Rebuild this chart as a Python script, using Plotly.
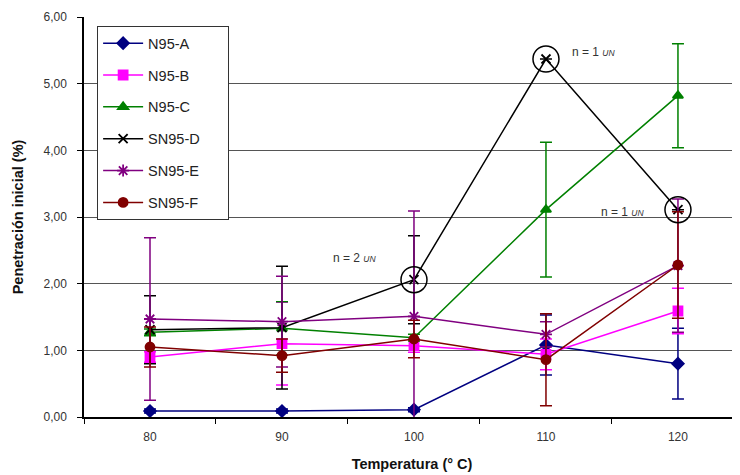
import plotly.graph_objects as go

temps = ["80", "90", "100", "110", "120"]

a_vals = [0.09, 0.09, 0.11, 1.08, 0.80]
a_err = [0.03, 0.03, 0.03, 0.45, 0.53]
b_vals = [0.90, 1.10, 1.07, 0.94, 1.59]
b_err = [0.08, 0.62, 0.10, 0.23, 0.34]
c_vals = [1.27, 1.33, 1.19, 3.11, 4.82]
c_err = [0.05, 0.40, 0.05, 1.01, 0.78]
d_vals = [1.31, 1.34, 2.06, 5.37, 3.11]
d_err = [0.51, 0.92, 0.66, 0.0, 0.0]
e_vals = [1.47, 1.43, 1.51, 1.24, 2.27]
e_err = [1.22, 0.68, 1.58, 0.19, 1.0]
f_vals = [1.05, 0.92, 1.17, 0.86, 2.28]
f_err = [0.30, 0.25, 0.28, 0.69, 0.80]

names = ["N95-A", "N95-B", "N95-C", "SN95-D", "SN95-E", "SN95-F"]
circled_idx = [2, 3, 4]

ytick_vals = [0, 1, 2, 3, 4, 5, 6]
ytick_text = ["0,00", "1,00", "2,00", "3,00", "4,00", "5,00", "6,00"]

series = [
    (names[0], a_vals, a_err, "#000080", "diamond", 9),
    (names[1], b_vals, b_err, "#FF00FF", "square", 9),
    (names[2], c_vals, c_err, "#008000", "triangle-up", 9),
    (names[3], d_vals, d_err, "#000000", "x-thin-open", 9),
    (names[4], e_vals, e_err, "#800080", "asterisk-open", 10),
    (names[5], f_vals, f_err, "#800000", "circle", 9),
]

pad = "<span style='color:rgba(0,0,0,0)'>xxx</span>"

fig = go.Figure()
for i, (nm, vals, err, col, sym, sz) in enumerate(series):
    fig.add_trace(go.Scatter(
        x=temps, y=vals, name=nm + pad, mode="lines+markers",
        legendgroup=nm,
        line=dict(color=col, width=1.5),
        marker=dict(symbol=sym, size=sz, color=col, line=dict(color=col, width=1.8)),
        error_y=dict(type="data", array=err, visible=True, color=col, thickness=1.5, width=6),
    ))

fig.add_trace(go.Scatter(
    x=[temps[i] for i in circled_idx], y=[d_vals[i] for i in circled_idx],
    mode="markers", showlegend=False, hoverinfo="skip",
    marker=dict(symbol="circle-open", size=26, color="black", line=dict(color="black", width=1.5)),
))

ann_font = dict(family="Liberation Sans, Arial", size=12, color="#333333")
un = "<i><span style='font-size:8.5px'>UN</span></i>"
fig.add_annotation(x=1.55, y=2.39, text="n = 2 " + un, showarrow=False, font=ann_font)
fig.add_annotation(x=3.36, y=5.47, text="n = 1 " + un, showarrow=False, font=ann_font)
fig.add_annotation(x=3.58, y=3.07, text="n = 1 " + un, showarrow=False, font=ann_font)

fig.update_layout(
    width=732, height=467,
    margin=dict(l=76, r=0, t=9, b=58),
    paper_bgcolor="white", plot_bgcolor="white",
    font=dict(family="Liberation Sans, Arial", size=12, color="#333333"),
    showlegend=True,
    legend=dict(
        x=0.02, y=0.977, xanchor="left", yanchor="top",
        bgcolor="white", bordercolor="#333333", borderwidth=1,
        font=dict(size=14.5, color="#222222"),
        traceorder="grouped", tracegroupgap=10,
        itemwidth=40,
    ),
    xaxis=dict(
        type="category", range=[-0.5, 4.47], automargin=False,
        tickson="boundaries", ticks="outside", ticklen=5, tickcolor="black",
        showline=True, linecolor="black", linewidth=1.5,
        showgrid=False, zeroline=False,
        ticklabelstandoff=8,
        title=dict(text="<b>Temperatura (° C)</b>", font=dict(size=14.5, color="#111111"), standoff=16),
    ),
    yaxis=dict(
        range=[0, 6], tickvals=ytick_vals, ticktext=ytick_text, automargin=False,
        ticks="outside", ticklen=5, tickcolor="black",
        showline=True, linecolor="black", linewidth=1.5,
        showgrid=True, gridcolor="#555555", gridwidth=1.2,
        zeroline=False, ticklabelstandoff=8,
        title=dict(text="<b>Penetración inicial (%)</b>", font=dict(size=14.5, color="#111111"), standoff=16),
    ),
)

fig.write_html("out.html")
